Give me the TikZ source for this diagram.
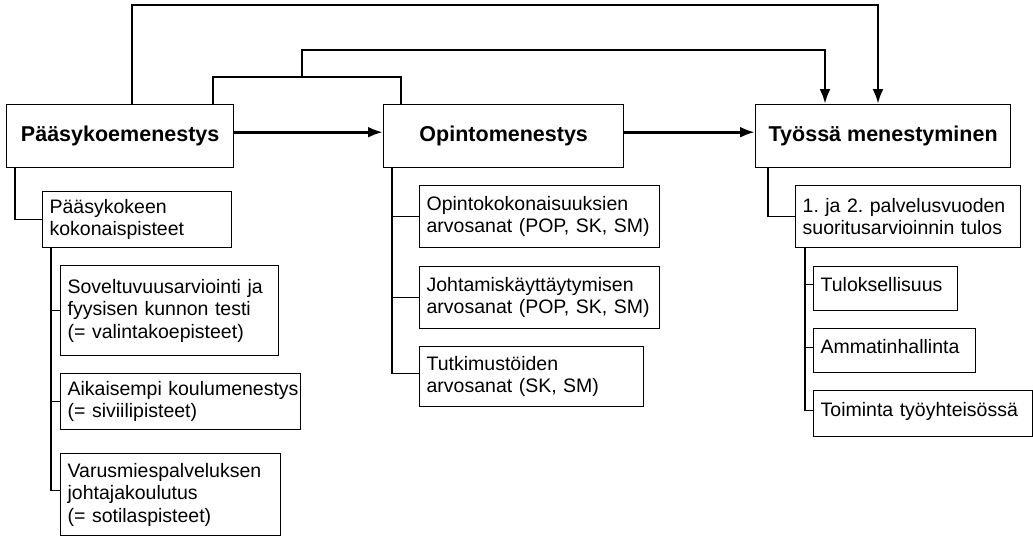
\documentclass[tikz,border=0pt]{standalone}
\usepackage{fontspec}
\setmainfont{Liberation Sans}
\usetikzlibrary{arrows.meta,calc}
\hyphenpenalty=10000
\exhyphenpenalty=10000
\tikzset{
  mainbox/.style={draw, line width=1.4pt, anchor=north west, align=center, inner sep=0pt,
    font=\bfseries\fontsize{21.5}{24}\selectfont},
  subbox/.style={draw, line width=1.3pt, anchor=north west, align=left, inner xsep=7pt, inner ysep=0pt,
    font=\fontsize{19.5}{22.5}\selectfont},
  conn/.style={line width=1.4pt},
  brk/.style={line width=2.6pt},
  arr/.style={line width=3pt, -{Latex[length=15pt,width=11pt]}},
}
\begin{document}
\begin{tikzpicture}[x=1pt,y=-1pt]
\useasboundingbox (0,0) rectangle (1033,536);
% main boxes
\node[mainbox, minimum width=227pt, minimum height=63pt] (b1) at (6,104) {Pääsykoemenestys};
\node[mainbox, minimum width=240pt, minimum height=63pt] (b2) at (383,104) {Opintomenestys};
\node[mainbox, minimum width=255pt, minimum height=63pt] (b3) at (755,104) {Työssä menestyminen};
% left column
\node[subbox, text width=175pt, minimum height=56pt] (s1) at (42,191) {Pääsykokeen\\kokonaispisteet};
\node[subbox, text width=204pt, minimum height=90pt] (s2) at (60,265) {Soveltuvuusarviointi~ja\\fyysisen~kunnon~testi\\(=~valintakoepisteet)};
\node[subbox, text width=226pt, minimum height=56pt] (s3) at (60,373) {Aikaisempi~koulumenestys\\(=~siviilipisteet)};
\node[subbox, text width=206pt, minimum height=82pt] (s4) at (60,453) {Varusmiespalveluksen\\johtajakoulutus\\(=~sotilaspisteet)};
% middle column
\node[subbox, text width=226pt, minimum height=62pt] (m1) at (419,185) {Opintokokonaisuuksien\\arvosanat~(POP,~SK,~SM)};
\node[subbox, text width=226pt, minimum height=62pt] (m2) at (419,266) {Johtamiskäyttäytymisen\\arvosanat~(POP,~SK,~SM)};
\node[subbox, text width=210pt, minimum height=60pt] (m3) at (419,346) {Tutkimustöiden\\arvosanat~(SK,~SM)};
% right column
\node[subbox, text width=211pt, minimum height=62pt] (r0) at (795,185) {1.~ja~2.~palvelusvuoden\\suoritusarvioinnin~tulos};
\node[subbox, text width=130pt, text height=25pt, text depth=19pt] (r1) at (813,266) {Tuloksellisuus};
\node[subbox, text width=148pt, text height=25pt, text depth=19pt] (r2) at (813,328) {Ammatinhallinta};
\node[subbox, text width=205pt, text height=26pt, text depth=20pt] (r3) at (813,390) {Toiminta~työyhteisössä};
% main arrows
\draw[arr] ([yshift=4pt]b1.east) -- ([yshift=4pt]b2.west);
\draw[arr] ([yshift=4pt]b2.east) -- ([yshift=4pt]b3.west);
% top connectors
\draw[arr, line width=2.8pt] ($(b1.north west)+(126,0)$) |- ($(b3.north west)+(123,-99)$) -- ($(b3.north west)+(123,0)$);
\draw[brk] ($(b1.north west)+(207,0)$) |- ($(b2.north west)+(18,-27)$) -- ($(b2.north west)+(18,0)$);
\coordinate (j) at (302,77);
\coordinate (t2) at (825,50);
\draw[arr, line width=2.8pt] (j) |- (t2) -- (t2 |- b3.north);
% left sub connectors
\draw[conn] ([xshift=9pt]b1.south west) |- (s1.west);
\coordinate (v1) at ([xshift=9pt]s1.south west);
\draw[conn] (v1) |- ([yshift=4pt]s4.west);
\draw[conn] (v1 |- s2.west) -- (s2.west);
\draw[conn] (v1 |- s3.west) -- (s3.west);
% middle connectors
\coordinate (v2) at ([xshift=9pt]b2.south west);
\draw[conn] (v2) |- ([yshift=3pt]m3.west);
\draw[conn] (v2 |- m1.west) -- (m1.west);
\draw[conn] (v2 |- m2.west) -- (m2.west);
% right connectors
\draw[conn] ([xshift=13pt]b3.south west) |- (r0.west);
\coordinate (v3) at ([xshift=10pt]r0.south west);
\draw[conn] (v3) |- ([yshift=3pt]r3.west);
\draw[conn] ([yshift=4pt]r1.west -| v3) -- ([yshift=4pt]r1.west);
\draw[conn] ([yshift=3pt]r2.west -| v3) -- ([yshift=3pt]r2.west);
\end{tikzpicture}
\end{document}
